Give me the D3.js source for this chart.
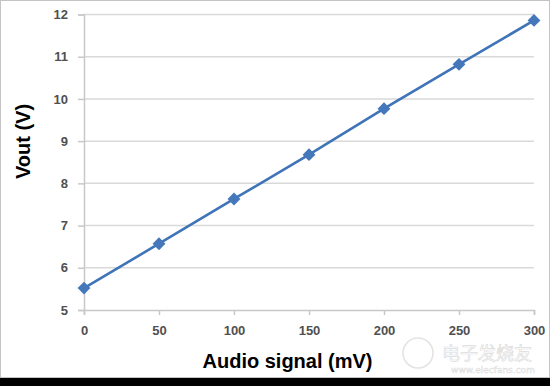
<!DOCTYPE html>
<html>
<head>
<meta charset="utf-8">
<script src="https://cdn.jsdelivr.net/npm/d3@7"></script>
<style>
  body { margin: 0; background: #fff; }
  svg { display: block; }
</style>
</head>
<body>
<svg></svg>
<script>
// chart data
var audioSignal = [0, 50, 100, 150, 200, 250, 300];
var vout = [5.52, 6.57, 7.63, 8.68, 9.77, 10.82, 11.86];
var xTicks = [0, 50, 100, 150, 200, 250, 300];
var yTicks = [5, 6, 7, 8, 9, 10, 11, 12];

window.onload = function(){
    var W = 550, H = 386;
    var svg = d3.select("svg").attr("width", W).attr("height", H);

    // frame + black strip at the bottom
    svg.append("rect").attr("x", 0.5).attr("y", 0.5).attr("width", W - 1).attr("height", 377)
        .attr("fill", "#fff").attr("stroke", "#c4c4c4");
    svg.append("rect").attr("x", 0).attr("y", 378).attr("width", W).attr("height", H - 378)
        .attr("fill", "#000");

    var x = d3.scaleLinear().domain([0, 300]).range([84, 534]);
    var y = d3.scaleLinear().domain([5, 12]).range([310, 14.5]);

    // horizontal gridlines
    svg.append("g").selectAll("line")
        .data(yTicks.slice(1)).enter()
        .append("line")
        .attr("x1", 84).attr("x2", 534)
        .attr("y1", function(d){ return y(d); })
        .attr("y2", function(d){ return y(d); })
        .attr("stroke", "#d9d9d9").attr("stroke-width", 1.5);

    // y axis
    var yAxis = svg.append("g").attr("transform", "translate(84,0)")
        .call(d3.axisLeft(y).tickValues(yTicks).tickFormat(d3.format("d")).tickSize(6).tickPadding(10));
    // x axis
    var xAxis = svg.append("g").attr("transform", "translate(0,310)")
        .call(d3.axisBottom(x).tickValues(xTicks).tickFormat(d3.format("d")).tickSize(5).tickPadding(10));

    [yAxis, xAxis].forEach(function(a){
        a.select(".domain").attr("stroke", "#c8c8c8").attr("stroke-width", 1.5);
        a.selectAll(".tick line").attr("stroke", "#c8c8c8").attr("stroke-width", 1.5);
        a.selectAll(".tick text")
            .attr("fill", "#505050")
            .style("font-family", "'Liberation Sans', Arial, sans-serif")
            .style("font-weight", "bold")
            .style("font-size", "13px");
    });
    xAxis.selectAll(".tick text").attr("dy", "0.75em");

    // the series
    var pts = audioSignal.map(function(v, i){ return [v, vout[i]]; });
    var line = d3.line()
        .x(function(d){ return x(d[0]); })
        .y(function(d){ return y(d[1]); });
    svg.append("path").datum(pts)
        .attr("d", line)
        .attr("fill", "none")
        .attr("stroke", "#3f74b8")
        .attr("stroke-width", 2.6);

    svg.append("g").selectAll("path")
        .data(pts).enter()
        .append("path")
        .attr("d", d3.symbol().type(d3.symbolDiamond2).size(105))
        .attr("transform", function(d){ return "translate(" + x(d[0]) + "," + y(d[1]) + ")"; })
        .attr("fill", "#4577bb");

    // axis titles
    svg.append("text")
        .attr("transform", "translate(30,141.5) rotate(-90)")
        .attr("text-anchor", "middle")
        .style("font-family", "'Liberation Sans', Arial, sans-serif")
        .style("font-weight", "bold")
        .style("font-size", "20px")
        .attr("fill", "#000")
        .text("Vout (V)");
    svg.append("text")
        .attr("x", 287.5).attr("y", 368)
        .attr("text-anchor", "middle")
        .style("font-family", "'Liberation Sans', Arial, sans-serif")
        .style("font-weight", "bold")
        .style("font-size", "20px")
        .attr("fill", "#000")
        .text("Audio signal (mV)");

    // faint watermark
    var wm = svg.append("g").attr("opacity", 0.5);
    wm.append("circle").attr("cx", 418).attr("cy", 353).attr("r", 15)
        .attr("fill", "none").attr("stroke", "#c8c8c8").attr("stroke-width", 1.5);
    wm.append("text").attr("x", 487).attr("y", 360).attr("text-anchor", "middle")
        .style("font-family", "'Noto Sans CJK SC', sans-serif")
        .style("font-size", "18px")
        .attr("fill", "#fff").attr("stroke", "#bdbdbd").attr("stroke-width", 0.7)
        .text("电子发烧友");
    wm.append("text").attr("x", 493).attr("y", 373).attr("text-anchor", "middle")
        .style("font-family", "'DejaVu Sans', sans-serif")
        .style("font-size", "9px")
        .attr("fill", "#fff").attr("stroke", "#bdbdbd").attr("stroke-width", 0.5)
        .text("www.elecfans.com");
}
</script>
</body>
</html>
